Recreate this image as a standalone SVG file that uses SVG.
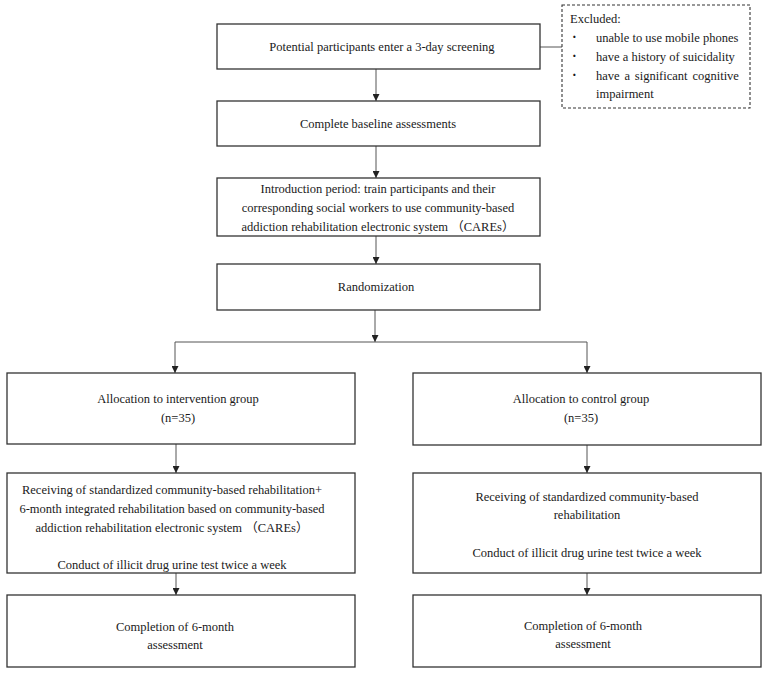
<svg xmlns="http://www.w3.org/2000/svg" width="765" height="674" viewBox="0 0 765 674">
<style>
.box{fill:#fff;stroke:#333;stroke-width:1.3}
.dash{fill:#fff;stroke:#333;stroke-width:1.1;stroke-dasharray:3 2}
.t{font-family:"Liberation Serif","Noto Sans CJK SC",serif;font-size:12.5px;fill:#1a1a1a}
.b{font-weight:bold;font-size:14px}
.c{text-anchor:middle}
.ln{fill:none;stroke:#555;stroke-width:1}
</style>
<defs>
<marker id="ah" markerWidth="7" markerHeight="7" refX="7" refY="3.5" orient="auto" markerUnits="userSpaceOnUse">
<path d="M0,0 L7,3.5 L0,7 z" fill="#222"/>
</marker>
</defs>
<rect width="765" height="674" fill="#fff"/>
<g id="connectors">
<line class="ln" x1="376" y1="69" x2="376" y2="101" marker-end="url(#ah)"/>
<line class="ln" x1="376" y1="146" x2="376" y2="178" marker-end="url(#ah)"/>
<line class="ln" x1="376" y1="236" x2="376" y2="264" marker-end="url(#ah)"/>
<line class="ln" x1="375" y1="310" x2="375" y2="342" marker-end="url(#ah)"/>
<line class="ln" x1="175" y1="342" x2="587" y2="342"/>
<line class="ln" x1="175" y1="342" x2="175" y2="373" marker-end="url(#ah)"/>
<line class="ln" x1="587" y1="342" x2="587" y2="373" marker-end="url(#ah)"/>
<line class="ln" x1="176" y1="444" x2="176" y2="473" marker-end="url(#ah)"/>
<line class="ln" x1="587" y1="445" x2="587" y2="473" marker-end="url(#ah)"/>
<line class="ln" x1="176" y1="573" x2="176" y2="595" marker-end="url(#ah)"/>
<line class="ln" x1="587" y1="573" x2="587" y2="595" marker-end="url(#ah)"/>
<line class="ln" x1="540" y1="47" x2="562" y2="47"/>
</g>
<g id="screening">
<rect class="box" x="217" y="24" width="323" height="45"/>
<text class="t c" x="382" y="51">Potential participants enter a 3-day screening</text>
</g>
<g id="excluded">
<rect class="dash" x="562" y="5" width="188" height="103"/>
<text class="t" x="570" y="23">Excluded:</text>
<text class="t b" x="572" y="42">·</text>
<text class="t" x="596" y="42">unable to use mobile phones</text>
<text class="t b" x="572" y="61">·</text>
<text class="t" x="596" y="61">have a history of suicidality</text>
<text class="t b" x="572" y="80">·</text>
<text class="t" x="596" y="80" word-spacing="1.7">have a significant cognitive</text>
<text class="t" x="596" y="98">impairment</text>
</g>
<g id="baseline">
<rect class="box" x="217" y="101" width="323" height="45"/>
<text class="t c" x="378" y="128">Complete baseline assessments</text>
</g>
<g id="introduction">
<rect class="box" x="217" y="178" width="323" height="58"/>
<text class="t c" x="378" y="193">Introduction period: train participants and their</text>
<text class="t c" x="378" y="212">corresponding social workers to use community-based</text>
<text class="t c" x="378" y="231">addiction rehabilitation electronic system （CAREs）</text>
</g>
<g id="randomization">
<rect class="box" x="217" y="264" width="323" height="46"/>
<text class="t c" x="376" y="291">Randomization</text>
</g>
<g id="alloc-intervention">
<rect class="box" x="7" y="373" width="348" height="71"/>
<text class="t c" x="178" y="403">Allocation to intervention group</text>
<text class="t c" x="178" y="422">(n=35)</text>
</g>
<g id="alloc-control">
<rect class="box" x="413" y="373" width="348" height="72"/>
<text class="t c" x="581" y="403">Allocation to control group</text>
<text class="t c" x="581" y="422">(n=35)</text>
</g>
<g id="receive-intervention">
<rect class="box" x="7" y="473" width="348" height="100"/>
<text class="t c" x="172" y="494">Receiving of standardized community-based rehabilitation+</text>
<text class="t c" x="172" y="513">6-month integrated rehabilitation based on community-based</text>
<text class="t c" x="172" y="532">addiction rehabilitation electronic system （CAREs）</text>
<text class="t c" x="172" y="569">Conduct of illicit drug urine test twice a week</text>
</g>
<g id="receive-control">
<rect class="box" x="413" y="473" width="348" height="100"/>
<text class="t c" x="587" y="501">Receiving of standardized community-based</text>
<text class="t c" x="587" y="519">rehabilitation</text>
<text class="t c" x="587" y="557">Conduct of illicit drug urine test twice a week</text>
</g>
<g id="complete-intervention">
<rect class="box" x="7" y="595" width="348" height="72"/>
<text class="t c" x="175" y="631">Completion of 6-month</text>
<text class="t c" x="175" y="649">assessment</text>
</g>
<g id="complete-control">
<rect class="box" x="413" y="595" width="348" height="72"/>
<text class="t c" x="583" y="630">Completion of 6-month</text>
<text class="t c" x="583" y="648">assessment</text>
</g>
</svg>
